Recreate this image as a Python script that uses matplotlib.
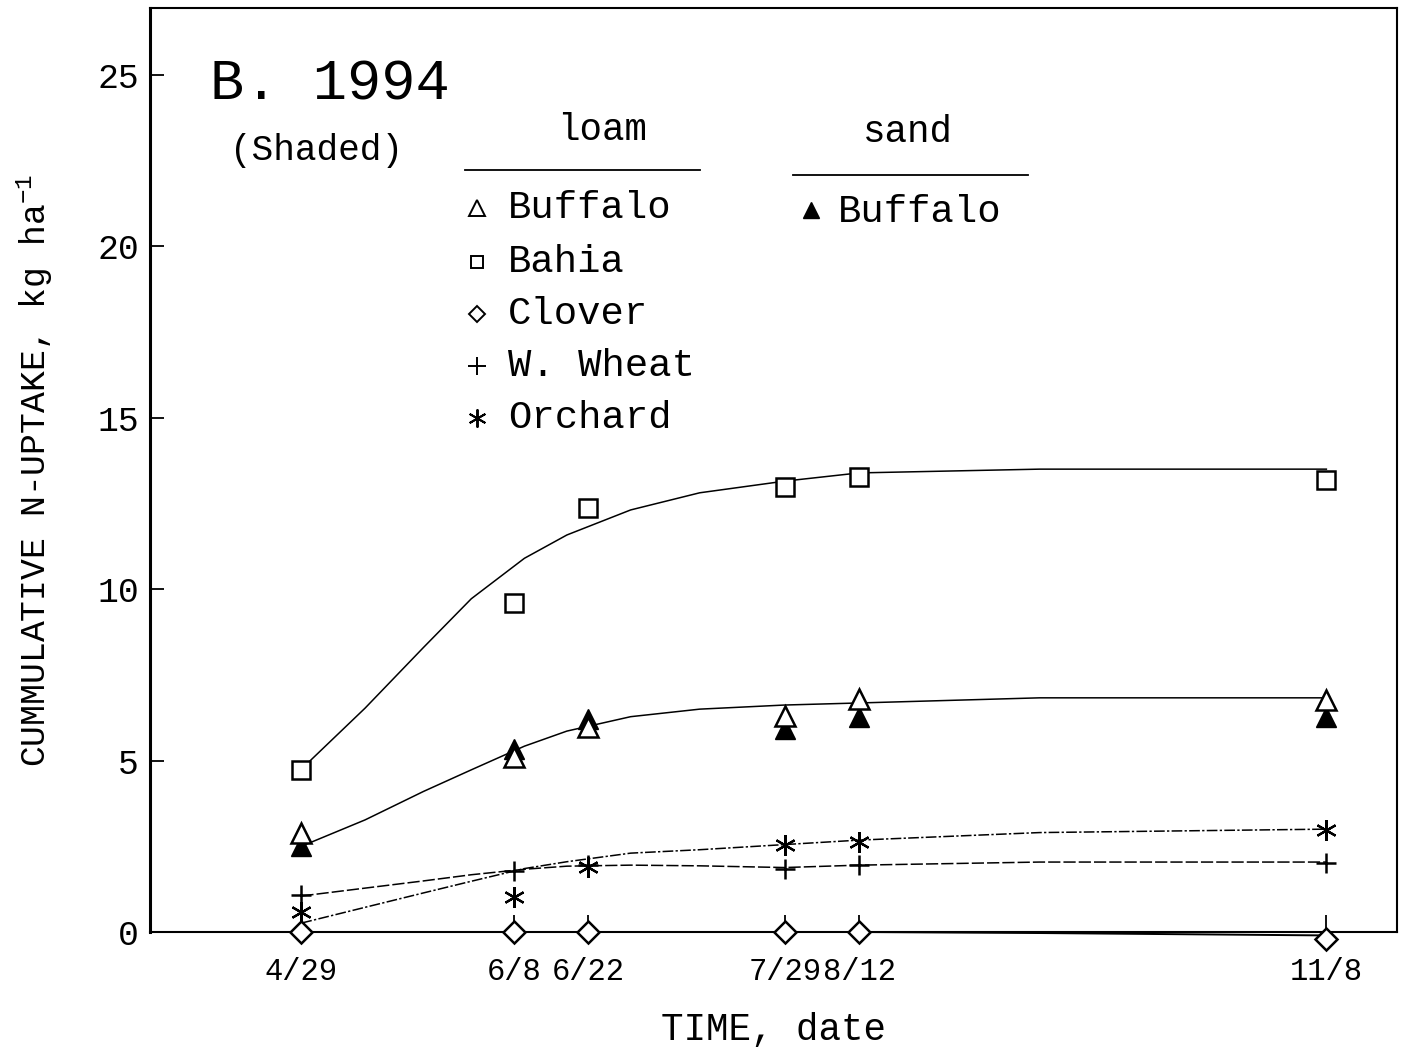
import matplotlib
matplotlib.use('Agg')
import matplotlib.pyplot as plt
from matplotlib.lines import Line2D

# ---------------- data ----------------
date_labels = ['4/29', '6/8', '6/22', '7/29', '8/12', '11/8']
sample_days = [119, 159, 173, 210, 224, 312]   # day of year 1994

bahia = [4.73, 9.6, 12.37, 12.98, 13.27, 13.19]
buffalo_loam = [2.89, 5.1, 5.98, 6.3, 6.8, 6.77]
buffalo_sand = [2.5, 5.35, 6.2, 5.92, 6.27, 6.27]
clover = [0.0, 0.0, 0.0, 0.0, 0.0, -0.2]
wheat = [1.08, 1.78, 1.95, 1.84, 1.95, 2.01]
orchard = [0.58, 1.02, 1.9, 2.54, 2.63, 2.98]

curve_days = [119, 131, 142, 151, 161, 169, 181, 194, 210, 224, 258, 312]
bahia_fit = [4.75, 6.53, 8.3, 9.72, 10.9, 11.58, 12.31, 12.81, 13.15, 13.39, 13.5, 13.5]
buffalo_fit = [2.5, 3.27, 4.1, 4.73, 5.42, 5.86, 6.28, 6.5, 6.62, 6.68, 6.83, 6.83]
orchard_fit = [0.26, 0.72, 1.14, 1.48, 1.85, 2.05, 2.3, 2.4, 2.55, 2.68, 2.9, 3.0]
wheat_fit = [1.05, 1.28, 1.49, 1.67, 1.83, 1.92, 1.95, 1.93, 1.88, 1.95, 2.04, 2.04]
clover_fit = [0, 0, 0, 0, 0, 0, 0, 0, 0, 0, -0.03, -0.1]

y_ticks = [0, 5, 10, 15, 20, 25]

# ---------------- fonts ----------------
MONO = ['Liberation Mono', 'DejaVu Sans Mono']
plt.rcParams['font.family'] = MONO
plt.rcParams['mathtext.default'] = 'regular'

W, H = 1409, 1055
fig = plt.figure(figsize=(W / 100, H / 100), dpi=100)
fig.patch.set_facecolor('white')


def fx(px):
    return px / W


def fy(py):
    return 1 - py / H


ax = fig.add_axes([fx(150), fy(932), fx(1397) - fx(150), fy(8) - fy(932)])
ax.set_xlim(90.5, 325.3)
ax.set_ylim(0, 26.95)

for s in ax.spines.values():
    s.set_linewidth(1.5)
    s.set_color('black')
ax.spines['left'].set_linewidth(2.2)

ax.set_xticks(sample_days)
ax.set_xticklabels(date_labels)
ax.set_yticks(y_ticks)
ax.tick_params(axis='both', direction='in', colors='black', width=1.3)
ax.tick_params(axis='y', length=10, pad=8, labelsize=25)
ax.tick_params(axis='x', length=12, pad=18, labelsize=22)

ax.set_xlabel('TIME, date', fontsize=27, labelpad=18)
ax.set_ylabel('CUMMULATIVE N-UPTAKE, kg ha$^{-1}$', fontsize=25, labelpad=30)

lw = 1.1
ax.plot(curve_days, bahia_fit, color='black', lw=lw, zorder=2)
ax.plot(curve_days, buffalo_fit, color='black', lw=lw, zorder=2)
ax.plot(curve_days, orchard_fit, color='black', lw=lw, ls=(0, (7, 1.5, 1.5, 1.5)), zorder=2)
ax.plot(curve_days, wheat_fit, color='black', lw=lw, ls=(0, (8, 2)), zorder=2)
ax.plot(curve_days, clover_fit, color='black', lw=1.4, zorder=2, clip_on=False)

mk = dict(ls='none', color='black', clip_on=False)
ax.plot(sample_days, buffalo_sand, marker='^', ms=14, mfc='black', mec='black', zorder=4, **mk)
ax.plot(sample_days, buffalo_loam, marker='^', ms=14, mfc='white', mec='black', mew=1.8, zorder=5, **mk)
ax.plot(sample_days, bahia, marker='s', ms=13, mfc='white', mec='black', mew=1.8, zorder=5, **mk)
ax.plot(sample_days, clover, marker='D', ms=11, mfc='white', mec='black', mew=1.8, zorder=5, **mk)
ax.plot(sample_days, wheat, marker='+', ms=15, mec='black', mew=1.8, zorder=6, **mk)
ax.plot(sample_days, orchard, marker=(6, 2, 0), ms=15, mec='black', mew=1.6, zorder=6, **mk)

# ---------------- title ----------------
fig.text(fx(210), fy(84), 'B. 1994', fontsize=41, va='center', ha='left')
fig.text(fx(230), fy(150), '(Shaded)', fontsize=26, va='center', ha='left')

# ---------------- legend (hand-placed) ----------------
fig.text(fx(602), fy(130), 'loam', fontsize=27, va='center', ha='center')
fig.text(fx(908), fy(132), 'sand', fontsize=27, va='center', ha='center')
fig.add_artist(Line2D([fx(465), fx(700)], [fy(170), fy(170)], color='black', lw=1.3))
fig.add_artist(Line2D([fx(793), fx(1028)], [fy(175), fy(175)], color='black', lw=1.3))

leg_items = [
    ('^', 'white', 'Buffalo', 208, 11),
    ('s', 'white', 'Bahia', 262, 9),
    ('D', 'white', 'Clover', 314, 8),
    ('+', 'black', 'W. Wheat', 366, 13),
    ((6, 2, 0), 'black', 'Orchard', 418, 13),
]
for m, fc, label, py, ms in leg_items:
    fig.add_artist(Line2D([fx(477)], [fy(py)], marker=m, ms=ms, mfc=fc,
                          mec='black', mew=1.4, ls='none'))
    fig.text(fx(508), fy(py), label, fontsize=28, va='center', ha='left')

fig.add_artist(Line2D([fx(811)], [fy(210)], marker='^', ms=12, mfc='black',
                      mec='black', ls='none'))
fig.text(fx(838), fy(212), 'Buffalo', fontsize=28, va='center', ha='left')

fig.savefig('out.png', dpi=100, facecolor='white')
